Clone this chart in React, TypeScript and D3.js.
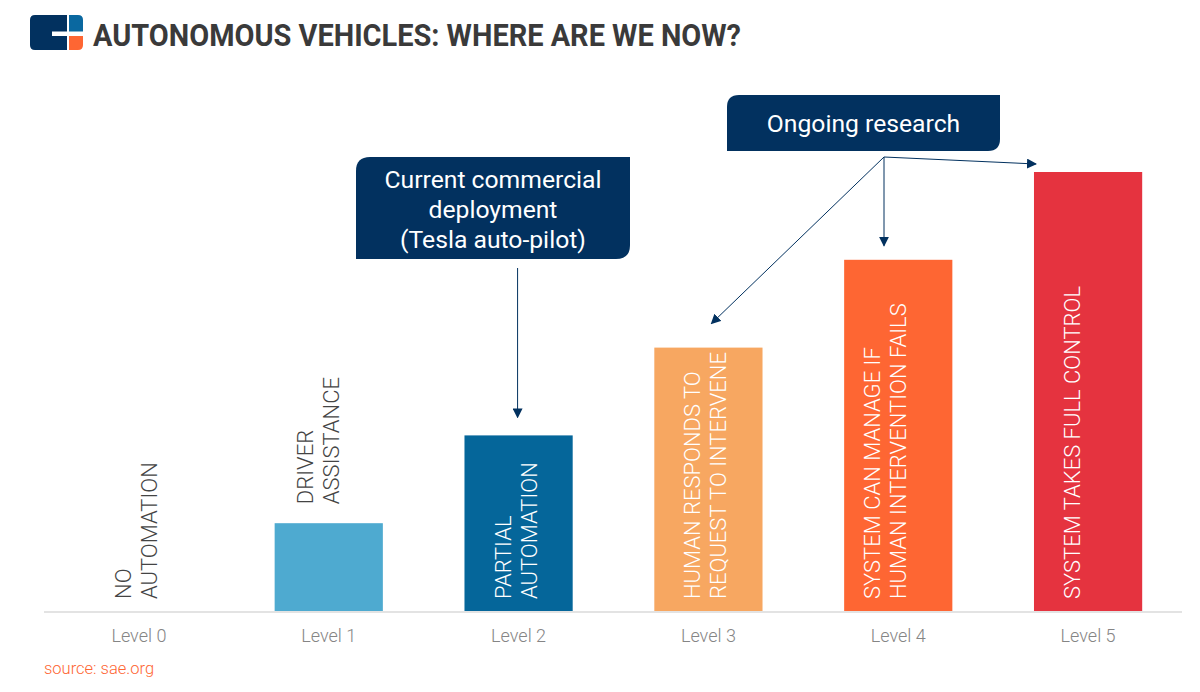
import React from "react";
import * as d3 from "d3";

const categories = ["Level 0", "Level 1", "Level 2", "Level 3", "Level 4", "Level 5"];
const levelValues = [0, 1, 2, 3, 4, 5];
const barLabels = [
  ["NO", "AUTOMATION"],
  ["DRIVER", "ASSISTANCE"],
  ["PARTIAL", "AUTOMATION"],
  ["HUMAN RESPONDS TO", "REQUEST TO INTERVENE"],
  ["SYSTEM CAN MANAGE IF", "HUMAN INTERVENTION FAILS"],
  ["SYSTEM TAKES FULL CONTROL"],
];
const barColors = ["#ffffff", "#4eaad0", "#05669a", "#f7a761", "#fe6633", "#e5333f"];
const labelInside = [true, false, true, true, true, true];
const labelShift = [0, -8, 0, 0, -10, 0];
const callout1Lines = ["Current commercial", "deployment", "(Tesla auto-pilot)"];
const callout2Lines = ["Ongoing research"];
const title = "AUTONOMOUS VEHICLES: WHERE ARE WE NOW?";
const source = "source: sae.org";

const W = 1200;
const H = 692;
const NAVY = "#02315f";
const FONT = "Roboto, 'Noto Sans', sans-serif";

export default function App() {
  const x = d3.scaleBand<string>().domain(categories).range([44, 1183]).paddingInner(0.43).paddingOuter(0.215);
  const y = d3.scaleLinear().domain([0, 5]).range([611, 172]);
  const bw = x.bandwidth();
  const cx = (i: number) => (x(categories[i]) as number) + bw / 2;

  const roundedBox = (x0: number, y0: number, w: number, h: number, r: number) =>
    `M${x0 + r},${y0} H${x0 + w} V${y0 + h - r} Q${x0 + w},${y0 + h} ${x0 + w - r},${y0 + h} H${x0} V${y0 + r} Q${x0},${y0} ${x0 + r},${y0} Z`;

  const b1 = { x: 356, y: 157, w: 274, h: 102 };
  const b2 = { x: 727, y: 95, w: 273, h: 56 };
  const origin2 = { x: 884, y: 157 };

  return (
    <svg width={W} height={H} style={{ position: "absolute", left: 0, top: 0, background: "#fff" }} fontFamily={FONT}>
      <defs>
        <marker id="arr" viewBox="0 0 10 10" refX="9" refY="5" markerWidth="10" markerHeight="10" markerUnits="userSpaceOnUse" orient="auto">
          <path d="M0,0 L10,5 L0,10 Z" fill={NAVY} />
        </marker>
      </defs>
      <rect width={W} height={H} fill="#fff" />

      {/* logo */}
      <g>
        <path d="M35,15 H67 V50 H35 Q30,50 30,45 V20 Q30,15 35,15 Z" fill={NAVY} />
        <path d="M69,15 H78 Q83,15 83,20 V31.5 H69 Z" fill="#0a68a0" />
        <path d="M69,36 H83 V45 Q83,50 78,50 H69 Z" fill="#fe6633" />
        <rect x={52} y={31.5} width={16} height={4.5} fill="#fff" />
      </g>
      <text x={93} y={46} fontSize={31} fontWeight={700} fill="#3a3a3a" textLength={648} lengthAdjust="spacingAndGlyphs">
        {title}
      </text>

      <line x1={44} x2={1182} y1={612} y2={612} stroke="#e3e3e3" strokeWidth={2} />

      {categories.map((c, i) => (
        <rect key={c} x={x(c)} y={y(levelValues[i])} width={bw} height={y(0) - y(levelValues[i])} fill={barColors[i]} />
      ))}

      {categories.map((c, i) => {
        const inside = labelInside[i];
        const startY = inside ? y(0) - 12 : y(levelValues[i]) - 19;
        const bx = cx(i) - 8 + labelShift[i];
        return (
          <g key={c + "l"}>
            {barLabels[i].map((ln, j) => (
              <text
                key={j}
                transform={`translate(${bx + j * 26},${startY}) rotate(-90)`}
                fontSize={22}
                fontWeight={300}
                fill={inside && levelValues[i] > 0 ? "#ffffff" : "#444444"}
                textAnchor="start"
              >
                {ln}
              </text>
            ))}
          </g>
        );
      })}

      {categories.map((c, i) => (
        <text key={c + "t"} x={cx(i)} y={642} textAnchor="middle" fontSize={18} fontWeight={300} fill="#858585">
          {c}
        </text>
      ))}

      <text x={44} y={674} fontSize={16.5} fontWeight={300} fill="#fe6633">
        {source}
      </text>

      <path d={roundedBox(b1.x, b1.y, b1.w, b1.h, 14)} fill={NAVY} />
      {callout1Lines.map((ln, j) => (
        <text key={ln} x={b1.x + b1.w / 2} y={b1.y + 31 + j * 30} textAnchor="middle" fontSize={24.7} fill="#fff">
          {ln}
        </text>
      ))}
      <line x1={cx(2) - 1} y1={268} x2={cx(2) - 1} y2={y(levelValues[2]) - 18} stroke={NAVY} strokeWidth={1} markerEnd="url(#arr)" />

      <path d={roundedBox(b2.x, b2.y, b2.w, b2.h, 12)} fill={NAVY} />
      {callout2Lines.map((ln) => (
        <text key={ln} x={b2.x + b2.w / 2} y={b2.y + 37} textAnchor="middle" fontSize={24.7} fill="#fff">
          {ln}
        </text>
      ))}
      <line x1={origin2.x} y1={origin2.y} x2={origin2.x} y2={y(levelValues[4]) - 14} stroke={NAVY} strokeWidth={1} markerEnd="url(#arr)" />
      <line x1={origin2.x} y1={origin2.y} x2={(x(categories[5]) as number) + 2} y2={y(levelValues[5]) - 8} stroke={NAVY} strokeWidth={1} markerEnd="url(#arr)" />
      <line x1={origin2.x} y1={origin2.y} x2={cx(3) + 3} y2={y(levelValues[3]) - 24} stroke={NAVY} strokeWidth={1} markerEnd="url(#arr)" />
    </svg>
  );
}
